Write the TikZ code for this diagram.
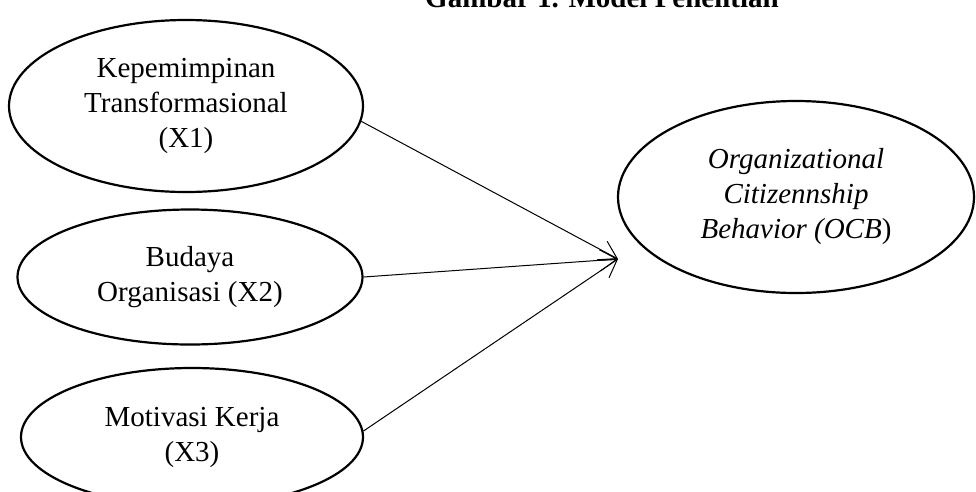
\documentclass[tikz,border=0pt]{standalone}
\usepackage{fontspec}
\setmainfont{Liberation Serif}
\usetikzlibrary{shapes.geometric,arrows.meta}
\begin{document}
\begin{tikzpicture}[x=1pt,y=-1pt,
  varbox/.style={ellipse,draw,line width=2.2pt,inner sep=0pt,align=center,
    font=\fontsize{29}{35}\selectfont},
  link/.style={line width=1pt,-{Straight Barb[length=17pt,width=21pt,line width=1pt]}}]
\useasboundingbox (0,0) rectangle (976,491);
\clip (0,0) rectangle (976,491);
\node[anchor=base,font=\fontsize{29}{35}\selectfont\bfseries] (title) at (602,7) {Gambar 1. Model Penelitian};
\node[varbox,minimum width=354pt,minimum height=172pt] (x1) at (186,106)
  {Kepemimpinan\\Transformasional\\(X1)};
\node[varbox,minimum width=345pt,minimum height=135pt] (x2) at (190,277)
  {Budaya\\Organisasi (X2)};
\node[varbox,minimum width=342pt,minimum height=138pt] (x3) at (192,437)
  {Motivasi Kerja\\(X3)};
\node[varbox,minimum width=356pt,minimum height=192pt] (ocb) at (796,197)
  {\textit{Organizational}\\\textit{Citizennship}\\\textit{Behavior (OCB})};
\coordinate (tip) at (618,259);
\draw[link] (x1.-5) -- (tip);
\draw[link] (x2.east) -- (tip);
\draw[link] (x3.2) -- (tip);
\end{tikzpicture}
\end{document}
